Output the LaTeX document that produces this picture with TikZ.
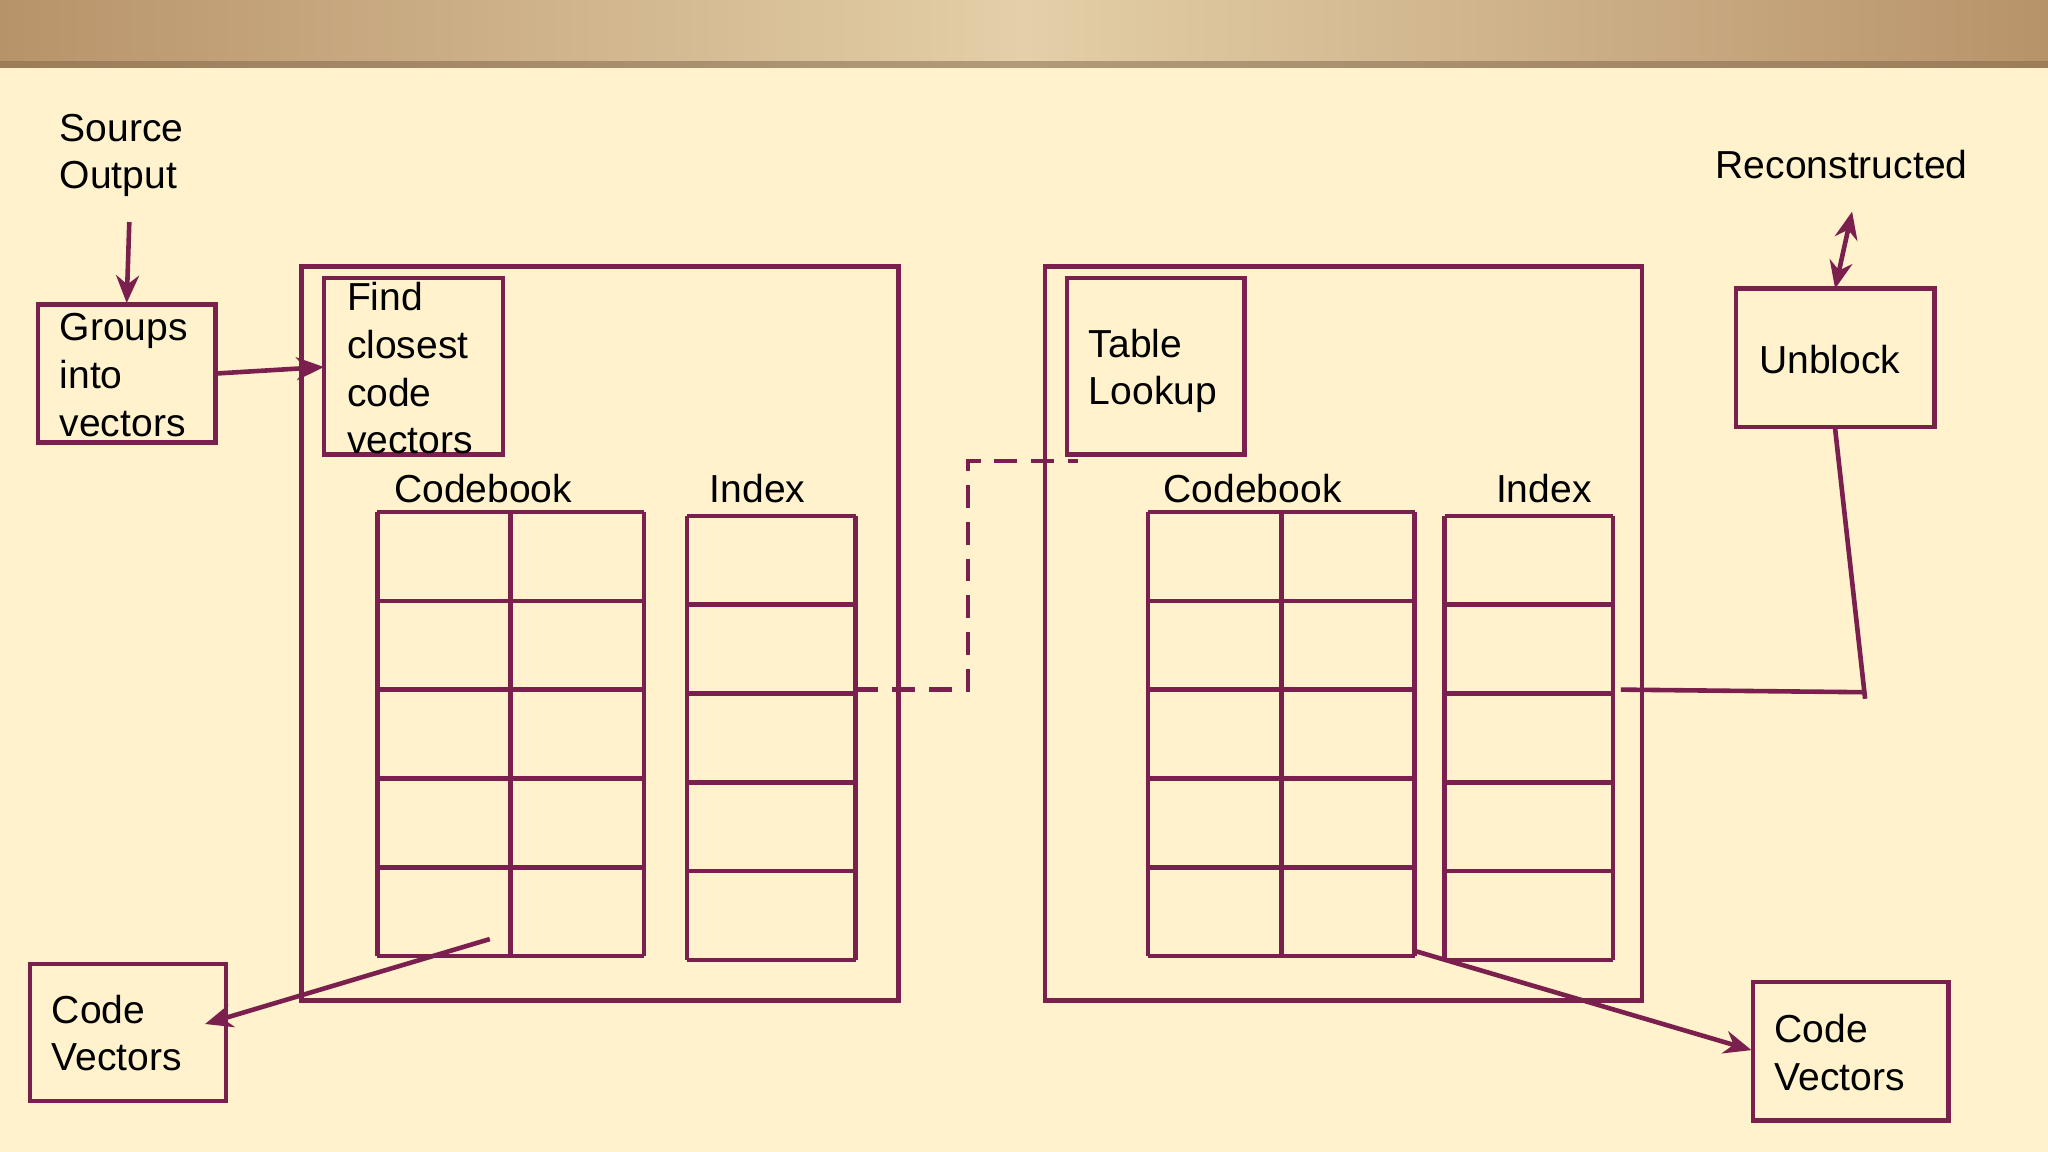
\documentclass[tikz,border=0pt]{standalone}
\usepackage{fontspec}
\setmainfont{Liberation Sans}
\usetikzlibrary{arrows.meta}
\definecolor{bg}{HTML}{FFF2CC}
\definecolor{ln}{HTML}{7A1F4E}
\definecolor{woodA}{HTML}{B8936A}
\definecolor{woodB}{HTML}{E3CFA8}
\begin{document}
\begin{tikzpicture}[x=0.01cm,y=-0.01cm,
  bx/.style={draw=ln,line width=1pt},
  tx/.style={font=\fontsize{8.5pt}{10.4pt}\selectfont,inner sep=0pt},
  lbl/.style={tx,align=left,anchor=west},
  ar/.style={draw=ln,line width=1pt,-{Stealth[length=6pt,width=5pt]}}]
\useasboundingbox (0,0) rectangle (1568,882);
\fill[bg] (0,0) rectangle (1568,882);
\shade[left color=woodA,right color=woodA,middle color=woodB] (0,0) rectangle (1568,52);
\fill[woodA!70!black,opacity=0.5] (0,47) rectangle (1568,52);
% texts
\node[lbl] (src) at (45,119) {Source\\Output};
\node[tx] (rec) at (1410,126) {Reconstructed};
% groups
\draw[bx] (29,233) rectangle (165,339);
\node[lbl] (grp) at (45,287) {Groups\\into\\vectors};
\coordinate (s1) at (99,170); \coordinate (s2) at (97,232);
\draw[ar] (s1) -- (s2);
\coordinate (g1) at (165,286); \coordinate (g2) at (248,281);
\draw[ar] (g1) -- (g2);
% left encoder
\draw[bx] (231,204) rectangle (688,766);
\draw[bx] (248,213) rectangle (385,348);
\node[lbl] (find) at (265,282) {Find\\closest\\code\\vectors};
\node[tx] (cb1) at (370,374) {Codebook};
\node[tx] (ix1) at (580,374) {Index};
\foreach \y in {392,460,528,596,664,732} \draw[bx] (289,\y) -- (493,\y);
\foreach \x in {289,391,493} \draw[bx] (\x,392) -- (\x,732);
\foreach \y in {395,463,531,599,667,735} \draw[bx] (526,\y) -- (655,\y);
\foreach \x in {526,655} \draw[bx] (\x,395) -- (\x,735);
% code vectors left
\draw[bx] (23,738) rectangle (173,843);
\node[lbl] (cv1) at (39,791) {Code\\Vectors};
\coordinate (c1) at (375,719); \coordinate (c2) at (157,784);
\draw[ar] (c1) -- (c2);
% dashed channel
\draw[draw=ln,line width=1pt,dash pattern=on 5pt off 3pt] (655,528) -- (741,528) -- (741,353) -- (825,353);
% right decoder
\draw[bx] (800,204) rectangle (1257,766);
\draw[bx] (817,213) rectangle (953,348);
\node[lbl] (tl) at (833,284) {Table\\Lookup};
\node[tx] (cb2) at (959,374) {Codebook};
\node[tx] (ix2) at (1182,374) {Index};
\foreach \y in {392,460,528,596,664,732} \draw[bx] (879,\y) -- (1083,\y);
\foreach \x in {879,981,1083} \draw[bx] (\x,392) -- (\x,732);
\foreach \y in {395,463,531,599,667,735} \draw[bx] (1106,\y) -- (1235,\y);
\foreach \x in {1106,1235} \draw[bx] (\x,395) -- (\x,735);
% unblock
\draw[bx] (1329,221) rectangle (1481,327);
\node[tx] (ub) at (1401,275) {Unblock};
\draw[draw=ln,line width=1pt] (1241,528) -- (1428,530);
\draw[draw=ln,line width=1pt] (1428,535) -- (1405,328);
\coordinate (u1) at (1405,221); \coordinate (u2) at (1418,162);
\draw[draw=ln,line width=1pt,{Stealth[length=6pt,width=5pt]}-{Stealth[length=6pt,width=5pt]}] (u1) -- (u2);
% code vectors right
\draw[bx] (1342,752) rectangle (1492,858);
\node[lbl] (cv2) at (1358,806) {Code\\Vectors};
\coordinate (d1) at (1083,728); \coordinate (d2) at (1341,804);
\draw[ar] (d1) -- (d2);
\end{tikzpicture}
\end{document}
